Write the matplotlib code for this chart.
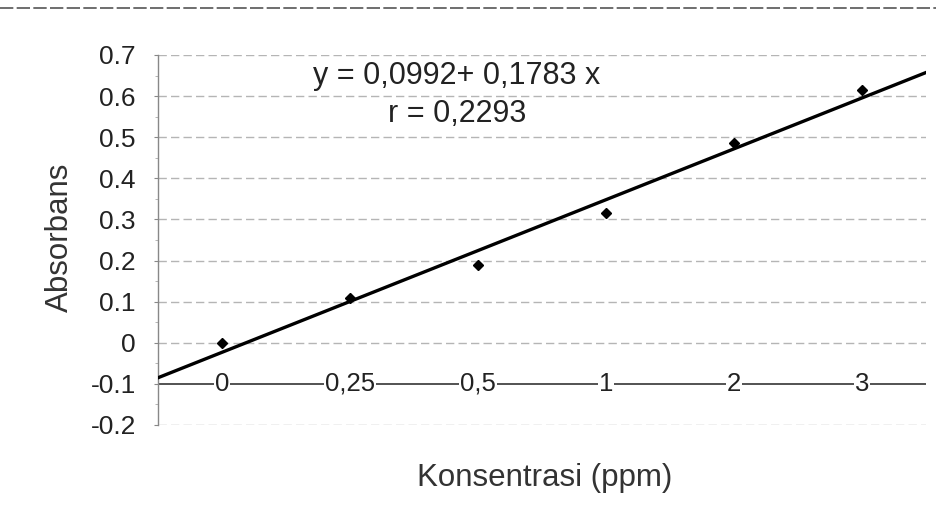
import numpy as np
import matplotlib.pyplot as plt
from matplotlib.lines import Line2D

# data
categories = ['0', '0,25', '0,5', '1', '2', '3']
absorbans = [0.0, 0.11, 0.19, 0.315, 0.487, 0.615]
yticks = [-0.2, -0.1, 0, 0.1, 0.2, 0.3, 0.4, 0.5, 0.6, 0.7]
ytick_labels = ['-0.2', '-0.1', '0', '0.1', '0.2', '0.3', '0.4', '0.5', '0.6', '0.7']
eq_text = 'y = 0,0992+ 0,1783 x\nr = 0,2293'

plt.rcParams['font.family'] = ['Liberation Sans', 'DejaVu Sans']

fig = plt.figure(figsize=(9.36, 5.26), dpi=100)
ax = fig.add_axes([158 / 936, 1 - 425 / 526, 768 / 936, 370 / 526])

idx = np.arange(1, len(categories) + 1)
ax.set_xlim(0.5, len(categories) + 0.5)
ax.set_ylim(-0.2, 0.7)

# gridlines
for v in yticks:
    if v == -0.1:
        ax.axhline(v, color='#444444', lw=1.3, zorder=1)
    else:
        ax.axhline(v, color='#b5b5b5', lw=1.0, ls=(0, (6, 3)), zorder=1)

# trendline (excel style, on category index)
k, b = np.polyfit(idx, absorbans, 1)
xx = np.array([0.5, len(categories) + 0.5])
ax.plot(xx, k * xx + b, color='black', lw=2.4, zorder=3)
ax.plot(idx, absorbans, 'D', color='black', ms=5.5, zorder=4)

# category labels sit on the -0.1 line
for i, c in zip(idx, categories):
    ax.text(i, -0.1, c, ha='center', va='center', fontsize=18.5, color='#222222',
            bbox=dict(facecolor='white', edgecolor='none', pad=1.0), zorder=2)

ax.set_xticks([])
ax.set_yticks(yticks, ytick_labels, fontsize=19, color='#222222')
ax.set_yticks(np.arange(-0.2, 0.71, 0.05), minor=True)
ax.tick_params(axis='y', length=3, width=0.8, color='#888888', pad=13)
ax.tick_params(axis='y', which='minor', length=2, color='#aaaaaa')
for s in ['top', 'right', 'bottom']:
    ax.spines[s].set_visible(False)
ax.spines['left'].set_color('#888888')
ax.spines['left'].set_linewidth(1.0)

fig.text(457 / 936, 1 - 95 / 526, eq_text, ha='center', va='center',
         multialignment='center', fontsize=22, color='#222222', linespacing=1.35)

fig.text(545 / 936, 1 - 478 / 526, 'Konsentrasi (ppm)', ha='center', va='center',
         fontsize=22.5, color='#333333')
fig.text(60 / 936, 1 - 237 / 526, 'Absorbans', ha='center', va='center',
         rotation=90, fontsize=22.5, color='#333333')

# dashed edge at the top of the scan
fig.add_artist(Line2D([0.0, 1.0], [1 - 8 / 526, 1 - 8 / 526], transform=fig.transFigure,
                      color='#555555', lw=1.2, ls=(0, (8, 2))))

fig.savefig('out.png', dpi=100, facecolor='white')
